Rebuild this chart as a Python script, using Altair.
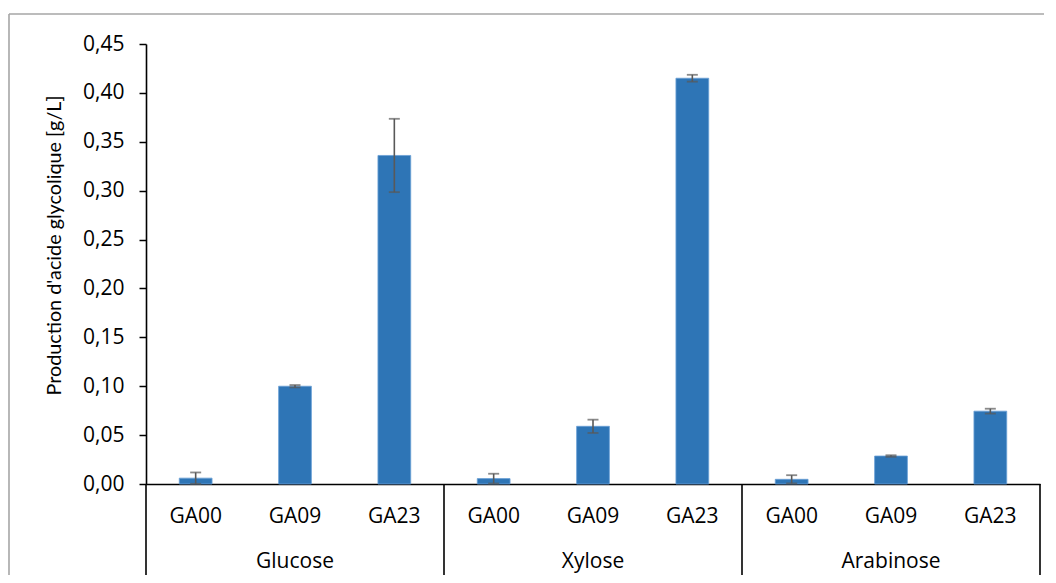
import altair as alt
import pandas as pd

sugars = ["Glucose", "Glucose", "Glucose", "Xylose", "Xylose", "Xylose",
          "Arabinose", "Arabinose", "Arabinose"]
strains = ["GA00", "GA09", "GA23", "GA00", "GA09", "GA23", "GA00", "GA09", "GA23"]
values = [0.006, 0.100, 0.336, 0.0055, 0.059, 0.415, 0.0048, 0.0286, 0.0745]
errors = [0.0058, 0.0012, 0.0375, 0.005, 0.0068, 0.0035, 0.0042, 0.0008, 0.0025]
groups = ["Glucose", "Xylose", "Arabinose"]
y_ticks = [0.0, 0.05, 0.10, 0.15, 0.20, 0.25, 0.30, 0.35, 0.40, 0.45]

keys = [f"{s}|{t}" for s, t in zip(sugars, strains)]
df = pd.DataFrame({
    "sugar": sugars, "strain": strains, "key": keys,
    "value": values, "err": errors,
})
df["lo"] = df["value"] - df["err"]
df["hi"] = df["value"] + df["err"]

FONT = "Open Sans"
TITLE_FONT = "Lato"
W, H = 894, 440

xscale = alt.Scale(domain=keys, paddingInner=0, paddingOuter=0)
yscale = alt.Scale(domain=[0, 0.45], nice=False, zero=True)

xaxis = alt.Axis(
    title=None, ticks=False, tickSize=0, labelPadding=21,
    labelExpr="split(datum.value, '|')[1]", labelAngle=0,
    labelFont=FONT, labelFontSize=21, labelColor="black",
    domainColor="black", domainWidth=1.6,
)
yaxis = alt.Axis(
    title="Production d'acide glycolique [g/L]", values=y_ticks,
    labelExpr="replace(format(datum.value, '.2f'), '.', ',')",
    labelFont=FONT, labelFontSize=21, labelColor="black", labelPadding=15,
    tickSize=7, tickWidth=1.5, tickColor="black",
    domainColor="black", domainWidth=1.6, grid=False,
    titleFont=TITLE_FONT, titleFontSize=19.8, titleFontWeight="normal", titleColor="black",
    titleAngle=-90, titleX=-92, titleY=201, titleAlign="center", titleBaseline="middle",
)

bars = alt.Chart(df).mark_bar(
    color="#2E75B6", width=alt.RelativeBandSize(0.33),
    stroke="#6A9FD6", strokeWidth=0.8,
).encode(
    x=alt.X("key:N", scale=xscale, axis=xaxis, sort=keys),
    y=alt.Y("value:Q", scale=yscale, axis=yaxis),
)

err_line = alt.Chart(df).mark_rule(color="#595959", strokeWidth=1.6).encode(
    x=alt.X("key:N", sort=keys), y="lo:Q", y2="hi:Q"
)
cap_hi = alt.Chart(df).mark_tick(color="#595959", size=11, thickness=1.8).encode(
    x=alt.X("key:N", sort=keys), y="hi:Q"
)
cap_lo = alt.Chart(df).mark_tick(color="#595959", size=11, thickness=1.8).encode(
    x=alt.X("key:N", sort=keys), y="lo:Q"
)

sep_start = pd.DataFrame({"key": [f"{g}|GA00" for g in groups]})
sep_end = pd.DataFrame({"key": [f"{groups[-1]}|GA23"]})
sep1 = alt.Chart(sep_start).mark_rule(color="black", strokeWidth=1.6).encode(
    x=alt.X("key:N", bandPosition=0), y=alt.value(H), y2=alt.value(H + 95)
)
sep2 = alt.Chart(sep_end).mark_rule(color="black", strokeWidth=1.6).encode(
    x=alt.X("key:N", bandPosition=1), y=alt.value(H), y2=alt.value(H + 95)
)

grp_df = pd.DataFrame({"group": groups, "key": [f"{g}|GA09" for g in groups]})
grp_text = alt.Chart(grp_df).mark_text(
    font=FONT, fontSize=21, color="black", baseline="alphabetic", align="center"
).encode(x=alt.X("key:N"), y=alt.value(524), text="group:N")

one = pd.DataFrame({"d": [0]})
border_top = alt.Chart(one).mark_rule(color="#A6A6A6", strokeWidth=1.6).encode(
    x=alt.value(-137), x2=alt.value(W + 20), y=alt.value(-30)
)
border_left = alt.Chart(one).mark_rule(color="#A6A6A6", strokeWidth=1.6).encode(
    x=alt.value(-137), y=alt.value(-30), y2=alt.value(H + 100)
)

chart = alt.layer(
    border_top, border_left, bars, err_line, cap_hi, cap_lo, sep1, sep2, grp_text
).properties(
    width=W, height=H,
    autosize=alt.AutoSizeParams(type="none"),
    padding={"left": 138, "top": 36, "right": 4, "bottom": 91},
).configure_view(stroke=None)

chart.save("out.html", embed_options={"renderer": "svg", "actions": False})
